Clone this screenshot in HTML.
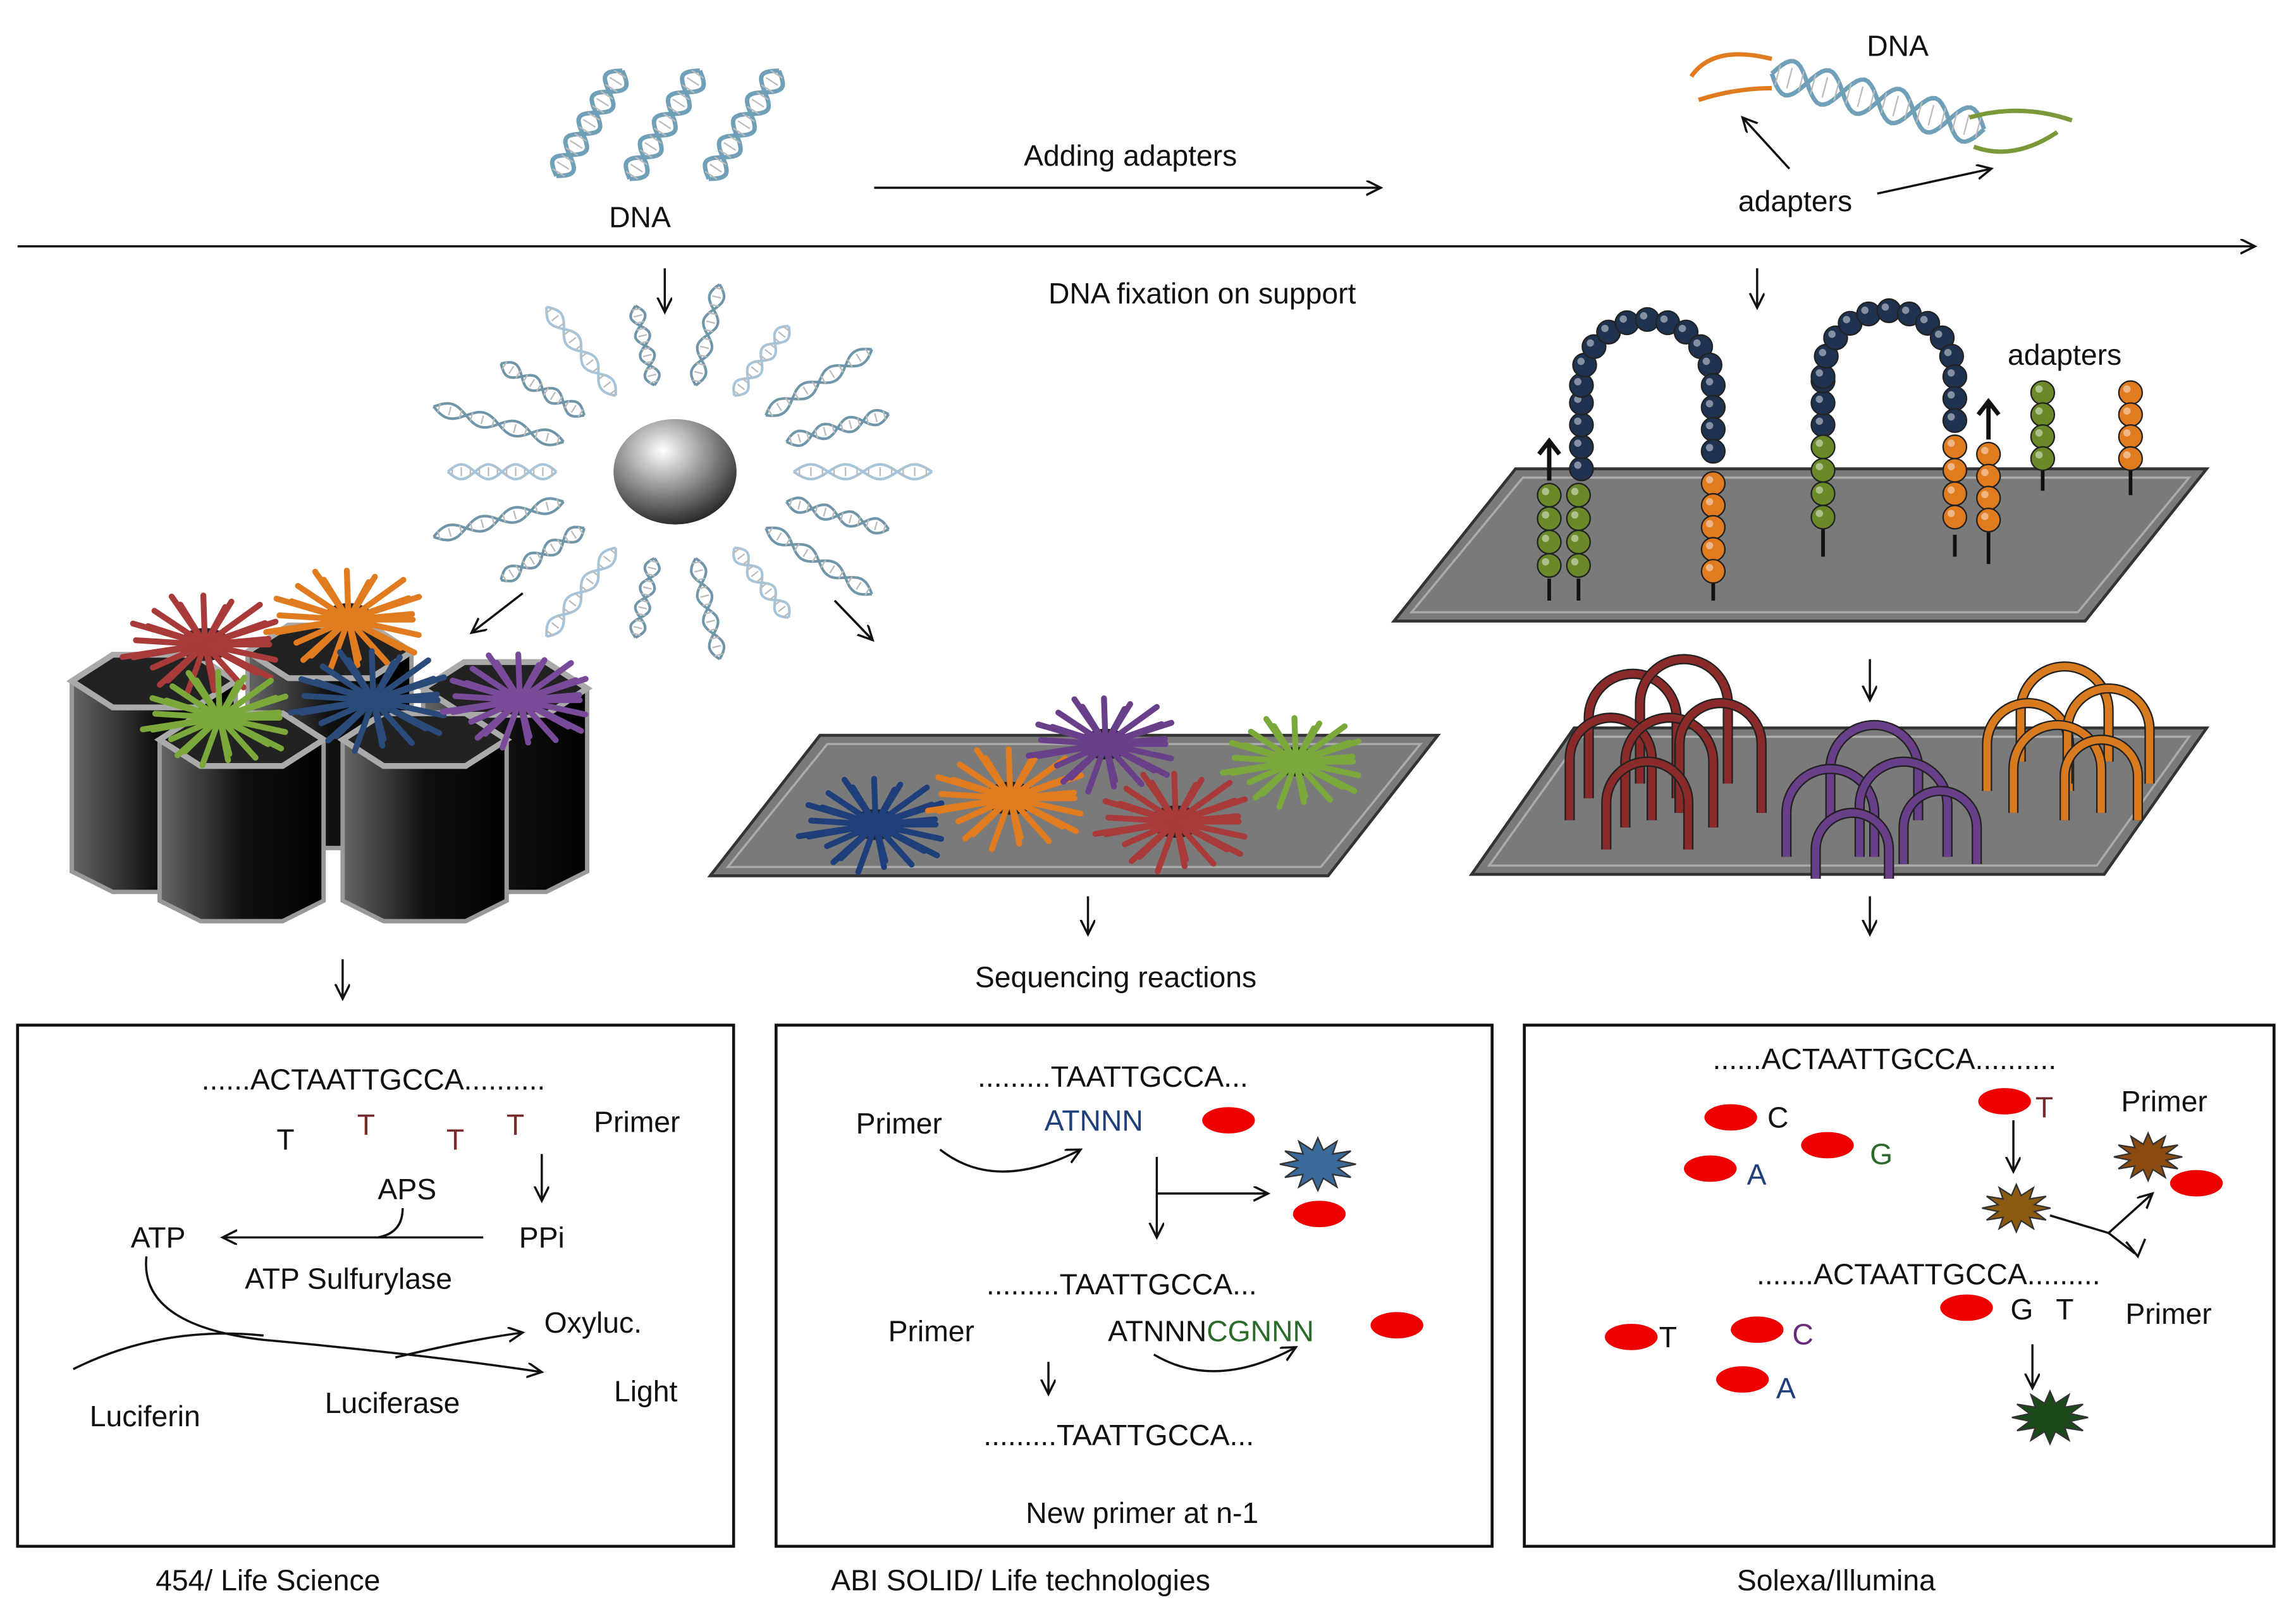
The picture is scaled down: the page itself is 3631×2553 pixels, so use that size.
<!DOCTYPE html>
<html><head><meta charset="utf-8">
<style>
html,body{margin:0;padding:0;background:#fff;}
svg{display:block;}
text{font-family:"Liberation Sans",sans-serif;font-size:20px;fill:#111;}
</style></head>
<body>
<svg id="s" width="3631" height="2553" viewBox="0 0 1568 1102" xmlns="http://www.w3.org/2000/svg">
<defs>
<marker id="ah" markerWidth="12" markerHeight="12" refX="10" refY="5" orient="auto" markerUnits="userSpaceOnUse">
<path d="M0,0 L10,5 L0,10" fill="none" stroke="#111" stroke-width="1.5"/></marker>
<radialGradient id="ball" cx="0.4" cy="0.3" r="0.8"><stop offset="0" stop-color="#fff"/><stop offset="0.5" stop-color="#888"/><stop offset="1" stop-color="#111"/></radialGradient>
<linearGradient id="well" x1="0" x2="1"><stop offset="0" stop-color="#666"/><stop offset="0.5" stop-color="#111"/><stop offset="1" stop-color="#000"/></linearGradient>
</defs>
<g id="g"></g>

<line x1="12" y1="168" x2="1540" y2="168" stroke="#111" stroke-width="1.5" marker-end="url(#ah)"/>
<line x1="597" y1="128" x2="943" y2="128" stroke="#111" stroke-width="1.5" marker-end="url(#ah)"/>
<text x="772" y="113" text-anchor="middle">Adding adapters</text>
<text x="437" y="155" text-anchor="middle">DNA</text>
<text x="1296" y="38" text-anchor="middle">DNA</text>
<text x="1226" y="144" text-anchor="middle">adapters</text>
<line x1="1222" y1="115" x2="1190" y2="80" stroke="#111" stroke-width="1.5" marker-end="url(#ah)"/>
<line x1="1282" y1="132" x2="1360" y2="115" stroke="#111" stroke-width="1.5" marker-end="url(#ah)"/>
<text x="821" y="207" text-anchor="middle">DNA fixation on support</text>
<g stroke="#111" stroke-width="1.5" marker-end="url(#ah)">
<line x1="454" y1="183" x2="454" y2="213"/>
<line x1="1200" y1="183" x2="1200" y2="210"/>
<line x1="357" y1="405" x2="322" y2="432"/>
<line x1="570" y1="410" x2="596" y2="437"/>
<line x1="1277" y1="450" x2="1277" y2="478"/>
<line x1="743" y1="612" x2="743" y2="638"/>
<line x1="1277" y1="612" x2="1277" y2="638"/>
<line x1="234" y1="655" x2="234" y2="682"/>
</g>
<text x="762" y="674" text-anchor="middle">Sequencing reactions</text>

<polygon points="485,598 560,502 982,502 907,598" fill="#7a7a7a" stroke="#333" stroke-width="2"/>
<polygon points="497,592 565,508 970,508 902,592" fill="none" stroke="#aaa" stroke-width="1.5"/>
<polygon points="952,424 1035,320 1507,320 1424,424" fill="#7a7a7a" stroke="#333" stroke-width="2"/>
<polygon points="964,418 1040,326 1495,326 1419,418" fill="none" stroke="#aaa" stroke-width="1.5"/>
<polygon points="1005,597 1075,497 1507,497 1437,597" fill="#7a7a7a" stroke="#333" stroke-width="2"/>
<polygon points="1017,591 1080,503 1495,503 1432,591" fill="none" stroke="#aaa" stroke-width="1.5"/>

<g id="hex"></g>
<ellipse cx="461" cy="322" rx="42" ry="36" fill="url(#ball)"/>

<g fill="none" stroke="#111" stroke-width="2">
<rect x="12" y="700" width="489" height="356"/>
<rect x="530" y="700" width="489" height="356"/>
<rect x="1041" y="700" width="512" height="356"/>
</g>
<text x="183" y="1086" text-anchor="middle">454/ Life Science</text>
<text x="697" y="1086" text-anchor="middle">ABI SOLID/ Life technologies</text>
<text x="1254" y="1086" text-anchor="middle">Solexa/Illumina</text>

<text x="255" y="744" text-anchor="middle">......ACTAATTGCCA..........</text>
<text x="195" y="785" text-anchor="middle">T</text>
<text x="250" y="775" text-anchor="middle" style="fill:#7a2a2a">T</text>
<text x="311" y="785" text-anchor="middle" style="fill:#7a2a2a">T</text>
<text x="352" y="775" text-anchor="middle" style="fill:#7a2a2a">T</text>
<text x="435" y="773" text-anchor="middle">Primer</text>
<text x="278" y="819" text-anchor="middle">APS</text>
<text x="370" y="852" text-anchor="middle">PPi</text>
<text x="108" y="852" text-anchor="middle">ATP</text>
<text x="238" y="880" text-anchor="middle">ATP Sulfurylase</text>
<text x="405" y="910" text-anchor="middle">Oxyluc.</text>
<text x="441" y="957" text-anchor="middle">Light</text>
<text x="99" y="974" text-anchor="middle">Luciferin</text>
<text x="268" y="965" text-anchor="middle">Luciferase</text>
<g fill="none" stroke="#111" stroke-width="1.5">
<line x1="370" y1="788" x2="370" y2="820" marker-end="url(#ah)"/>
<line x1="330" y1="845" x2="152" y2="845" marker-end="url(#ah)"/>
<path d="M275,825 Q275,842 258,845"/>
<path d="M100,858 Q95,905 180,915 Q290,925 370,937" marker-end="url(#ah)"/>
<path d="M50,935 Q110,905 180,912"/>
<path d="M270,927 Q320,915 357,910" marker-end="url(#ah)"/>
</g>

<text x="760" y="742" text-anchor="middle">.........TAATTGCCA...</text>
<text x="614" y="774" text-anchor="middle">Primer</text>
<text x="747" y="772" text-anchor="middle" style="fill:#1f3f7a">ATNNN</text>
<ellipse cx="839" cy="765" rx="18" ry="9" fill="#e00"/>
<ellipse cx="901" cy="829" rx="18" ry="9" fill="#e00"/>
<ellipse cx="954" cy="905" rx="18" ry="9" fill="#e00"/>
<text x="766" y="884" text-anchor="middle">.........TAATTGCCA...</text>
<text x="636" y="916" text-anchor="middle">Primer</text>
<text x="827" y="916" text-anchor="middle">ATNNN<tspan style="fill:#2a6a2a">CGNNN</tspan></text>
<text x="764" y="987" text-anchor="middle">.........TAATTGCCA...</text>
<text x="780" y="1040" text-anchor="middle">New primer at n-1</text>
<g fill="none" stroke="#111" stroke-width="1.5">
<path d="M642,785 Q680,815 738,785" marker-end="url(#ah)"/>
<line x1="790" y1="790" x2="790" y2="845" marker-end="url(#ah)"/>
<line x1="790" y1="815" x2="866" y2="815" marker-end="url(#ah)"/>
<path d="M788,925 Q830,950 885,920" marker-end="url(#ah)"/>
<line x1="716" y1="930" x2="716" y2="952" marker-end="url(#ah)"/>
</g>

<text x="1287" y="730" text-anchor="middle">......ACTAATTGCCA..........</text>
<text x="1317" y="877" text-anchor="middle">.......ACTAATTGCCA.........</text>
<text x="1478" y="759" text-anchor="middle">Primer</text>
<text x="1481" y="904" text-anchor="middle">Primer</text>
<g fill="#e00">
<ellipse cx="1182" cy="763" rx="18" ry="9"/>
<ellipse cx="1168" cy="798" rx="18" ry="9"/>
<ellipse cx="1248" cy="782" rx="18" ry="9"/>
<ellipse cx="1369" cy="752" rx="18" ry="9"/>
<ellipse cx="1500" cy="808" rx="18" ry="9"/>
<ellipse cx="1343" cy="893" rx="18" ry="9"/>
<ellipse cx="1114" cy="913" rx="18" ry="9"/>
<ellipse cx="1200" cy="908" rx="18" ry="9"/>
<ellipse cx="1190" cy="942" rx="18" ry="9"/>
</g>
<text x="1207" y="770">C</text>
<text x="1193" y="809" style="fill:#1f3f7a">A</text>
<text x="1277" y="795" style="fill:#2a6a2a">G</text>
<text x="1390" y="763" style="fill:#7a2a2a">T</text>
<text x="1373" y="901">G</text><text x="1404" y="901">T</text>
<text x="1133" y="920">T</text>
<text x="1224" y="918" style="fill:#6a2a7a">C</text>
<text x="1213" y="955" style="fill:#1f3f7a">A</text>
<g fill="none" stroke="#111" stroke-width="1.5">
<line x1="1375" y1="765" x2="1375" y2="800" marker-end="url(#ah)"/>
<path d="M1400,830 L1440,842 L1470,815" marker-end="url(#ah)"/>
<path d="M1440,842 L1458,856"/>
<path d="M1452,848 L1460,858 L1465,846"/>
<line x1="1388" y1="918" x2="1388" y2="948" marker-end="url(#ah)"/>
</g>
<g id="stars"></g>
<text x="1410" y="249" text-anchor="middle">adapters</text>
<g id="beads"></g>
</svg>
<script>
var NS="http://www.w3.org/2000/svg";
function el(t,a,p){var e=document.createElementNS(NS,t);for(var k in a)e.setAttribute(k,a[k]);(p||document.getElementById('g')).appendChild(e);return e;}
function helix(x1,y1,x2,y2,amp,per,col,w,p){
 var dx=x2-x1,dy=y2-y1,L=Math.hypot(dx,dy),ux=dx/L,uy=dy/L,nx=-uy,ny=ux;
 for(var s=0;s<2;s++){var d="";for(var i=0;i<=60;i++){var t=i/60,ph=t*per*2*Math.PI+s*Math.PI,o=amp*Math.sin(ph);
 var x=x1+dx*t+nx*o,y=y1+dy*t+ny*o;d+=(i?"L":"M")+x.toFixed(1)+","+y.toFixed(1);}
 el('path',{d:d,fill:'none',stroke:col,'stroke-width':w||2.5},p);}
 for(var i=0;i<per*6;i++){var t=(i+0.5)/(per*6);var x=x1+dx*t,y=y1+dy*t;el('line',{x1:x+nx*amp*0.6,y1:y+ny*amp*0.6,x2:x-nx*amp*0.6,y2:y-ny*amp*0.6,stroke:'#bbb','stroke-width':1},p);}
}
helix(380,120,425,48,8,2.5,'#6fa0b8',3);helix(430,122,478,48,8,2.5,'#6fa0b8',3);helix(484,122,532,48,8,2.5,'#6fa0b8',3);
el('path',{d:'M1155,52 Q1170,30 1210,40',fill:'none',stroke:'#e07b20','stroke-width':3});
el('path',{d:'M1160,68 Q1185,60 1210,60',fill:'none',stroke:'#e07b20','stroke-width':3});
helix(1210,50,1355,88,12,3,'#6fa0b8',3);
el('path',{d:'M1345,80 Q1380,70 1415,82',fill:'none',stroke:'#7a9a3a','stroke-width':3});
el('path',{d:'M1348,100 Q1375,110 1405,90',fill:'none',stroke:'#7a9a3a','stroke-width':3});
for(var i=0;i<18;i++){var a=i/18*2*Math.PI,r1=60,r2=r1+(i%2?55:70);
 var c=i%3==0?'#a8c4d8':'#6f95a8';
 helix(461+Math.cos(a)*r1*1.35,322+Math.sin(a)*r1,461+Math.cos(a)*r2*1.35,322+Math.sin(a)*r2,5,2,c,1.8);}
var hx=document.getElementById('hex');
function hexcol(cx,top,h){var w=56;
 el('polygon',{points:[cx-w,top,cx-w*0.5,top-18,cx+w*0.5,top-18,cx+w,top,cx+w,top+h,cx+w*0.5,top+h+14,cx-w*0.5,top+h+14,cx-w,top+h].join(' '),fill:'url(#well)',stroke:'#999','stroke-width':3},hx);
 el('polygon',{points:[cx-w,top,cx-w*0.5,top-18,cx+w*0.5,top-18,cx+w,top,cx+w*0.5,top+18,cx-w*0.5,top+18].join(' '),fill:'#222',stroke:'#aaa','stroke-width':4},hx);}
hexcol(105,465,130);hexcol(225,445,120);hexcol(345,470,125);hexcol(165,505,110);hexcol(290,505,110);
function cluster(cx,cy,col,r){var g=document.getElementById('hex');
 el('ellipse',{cx:cx,cy:cy,rx:r*0.4,ry:r*0.25,fill:'#222'},g);
 for(var i=0;i<26;i++){var a=i/26*2*Math.PI+(i%3)*0.1,rr=r*(0.75+0.3*((i*7)%5)/5);
 el('line',{x1:cx,y1:cy,x2:cx+Math.cos(a)*rr*1.3,y2:cy+Math.sin(a)*rr*0.8,stroke:col,'stroke-width':4,'stroke-linecap':'round'},g);}}
cluster(140,440,'#a83a3a',45);cluster(238,423,'#e07b20',45);cluster(150,490,'#7aa83a',42);cluster(255,478,'#2a4a7a',45);cluster(355,478,'#7a4a9a',42);
cluster(598,563,'#1f3f7a',42);cluster(690,545,'#e07b20',45);cluster(755,508,'#6a3f8a',42);cluster(803,561,'#a83a3a',44);cluster(885,520,'#7aa83a',40);
var bd=document.getElementById('beads');
function bead(x,y,c){el('circle',{cx:x,cy:y,r:8,fill:c,stroke:'#222','stroke-width':1},bd);el('circle',{cx:x-2.5,cy:y-2.5,r:2.5,fill:'#fff',opacity:0.45},bd);}
var G='#6a8a2a',O='#e07b20',B='#1f3350';
function stem(x,y1,y2){el('line',{x1:x,y1:y1,x2:x,y2:y2,stroke:'#111','stroke-width':2.5},bd);}
stem(1058,395,410);stem(1078,395,410);stem(1170,395,410);stem(1245,360,380);stem(1335,365,380);stem(1358,360,385);stem(1395,315,335);stem(1455,320,338);
for(var i=0;i<4;i++){bead(1058,338+i*16,G);bead(1078,338+i*16,G);}
function arch(xl,xr,ytop,ybase,n){var cx=(xl+xr)/2,r=(xr-xl)/2;var pts=[];
 for(var y=ybase;y>ytop+r;y-=15)pts.push([xl,y]);
 for(var i=0;i<=n;i++){var a=Math.PI-i/n*Math.PI;pts.push([cx+Math.cos(a)*r,ytop+r-Math.sin(a)*r]);}
 for(var y=ytop+r+15;y<=ybase;y+=15)pts.push([xr,y]);return pts;}
arch(1080,1170,218,320,10).forEach(function(p){bead(p[0],p[1],B);});
for(var i=0;i<5;i++)bead(1170,330+i*15,O);
arch(1245,1335,212,290,10).forEach(function(p){bead(p[0],p[1],B);});
for(var i=0;i<4;i++){bead(1245,305+i*16,G);bead(1335,305+i*16,O);bead(1358,310+i*15,O);}
for(var i=0;i<4;i++){bead(1395,268+i*15,G);bead(1455,268+i*15,O);}
el('line',{x1:1058,y1:328,x2:1058,y2:302,stroke:'#111','stroke-width':3},bd);
el('path',{d:'M1051,310 L1058,301 L1065,310',fill:'none',stroke:'#111','stroke-width':3},bd);
el('line',{x1:1358,y1:300,x2:1358,y2:275,stroke:'#111','stroke-width':3},bd);
el('path',{d:'M1351,283 L1358,274 L1365,283',fill:'none',stroke:'#111','stroke-width':3},bd);
function rarch(cx,base,r,h,col){var d='M'+(cx-r)+','+base+' L'+(cx-r)+','+(base-h+r)+' A'+r+','+r+' 0 0 1 '+(cx+r)+','+(base-h+r)+' L'+(cx+r)+','+base;
el('path',{d:d,fill:'none',stroke:'#222','stroke-width':7},bd);
el('path',{d:d,fill:'none',stroke:col,'stroke-width':5},bd);}
[[1115,545,30,85],[1150,535,30,85],[1100,560,28,70],[1140,565,30,75],[1175,555,28,75],[1125,580,28,60]].forEach(function(a){rarch(a[0],a[1],a[2],a[3],'#8a2a2a');});
[[1280,560,30,65],[1250,585,30,60],[1300,585,30,65],[1325,590,25,50],[1265,600,25,45]].forEach(function(a){rarch(a[0],a[1],a[2],a[3],'#6a3f8a');});
[[1410,520,30,65],[1385,540,28,60],[1440,535,28,65],[1405,555,30,60],[1435,560,25,55]].forEach(function(a){rarch(a[0],a[1],a[2],a[3],'#d87a20');});
var st=document.getElementById('stars');
function star(cx,cy,r,col){var d="";for(var i=0;i<24;i++){var a=i/24*2*Math.PI,rr=i%2?r*0.55:r;d+=(i?"L":"M")+(cx+Math.cos(a)*rr*1.3).toFixed(1)+","+(cy+Math.sin(a)*rr*0.9).toFixed(1);}
el('path',{d:d+"Z",fill:col,stroke:'#333','stroke-width':1},st);}
star(900,795,20,'#3a6a9a');star(1467,790,18,'#8a4a10');star(1377,825,18,'#8a5a10');star(1400,968,20,'#1a4a1a');
</script>
</body></html>
